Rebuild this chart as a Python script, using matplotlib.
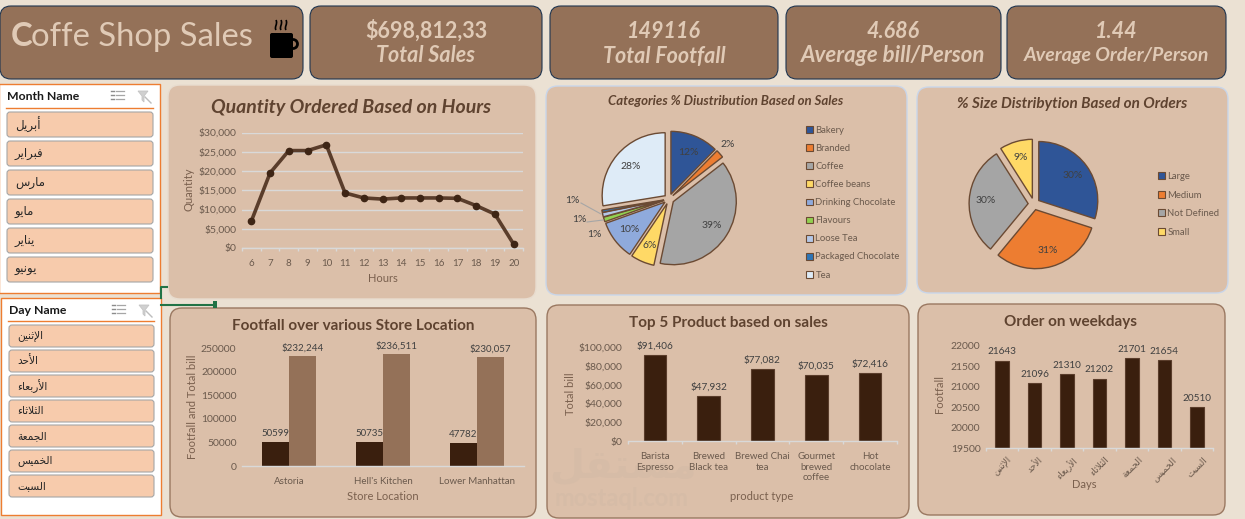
import matplotlib
matplotlib.use('Agg')
import matplotlib.pyplot as plt
import matplotlib.patches as mpatches
from matplotlib.path import Path
from matplotlib.ticker import FuncFormatter, MultipleLocator
import numpy as np

W, H = 1245, 519
plt.rcParams['font.family'] = ['Lato', 'DejaVu Sans']

hours = [6, 7, 8, 9, 10, 11, 12, 13, 14, 15, 16, 17, 18, 19, 20]
hour_sales = [7000, 19500, 25300, 25300, 26800, 14300, 13000, 12700, 13000, 13000, 13000, 12900, 11000, 8800, 1000]

categories = ['Bakery', 'Branded', 'Coffee', 'Coffee beans', 'Drinking Chocolate', 'Flavours', 'Loose Tea',
              'Packaged Chocolate', 'Tea']
category_share = [12.4, 2.1, 38.9, 6.1, 10.1, 1.2, 1.1, 0.6, 27.6]
category_colors = ['#2F5597', '#ED7D31', '#A5A5A5', '#FFD966', '#8FAADC', '#92D050', '#B4C7E7', '#2E75B6', '#DEEBF7']

sizes = ['Large', 'Medium', 'Not Defined', 'Small']
size_share = [30, 31, 30, 9]
size_colors = ['#2F5597', '#ED7D31', '#A5A5A5', '#FFD966']

stores = ['Astoria', "Hell's Kitchen", 'Lower Manhattan']
store_footfall = [50599, 50735, 47782]
store_bill = [232244, 236511, 230057]

products = ['Barista\nEspresso', 'Brewed\nBlack tea', 'Brewed Chai\ntea', 'Gourmet\nbrewed\ncoffee', 'Hot\nchocolate']
product_sales = [91406, 47932, 77082, 70035, 72416]

months = ['أبريل', 'فبراير', 'مارس', 'مايو', 'يناير', 'يونيو']
days = ['الإثنين', 'الأحد', 'الأربعاء', 'الثلاثاء', 'الجمعة', 'الخميس', 'السبت']
day_orders = [21643, 21096, 21310, 21202, 21701, 21654, 20510]

kpi_values = ['$698,812,33', '149116', '4.686', '1.44']
kpi_names = ['Total Sales', 'Total Footfall', 'Average bill/Person', 'Average Order/Person']

BG = '#EBE1D3'
TILE = '#947158'
PANEL = '#DBBFA9'
CREAM = '#E0CAB6'
DARK = '#3A1F0E'
TITLE = '#5F4330'
TICK = '#6B5A4D'
AXT = '#7A604E'
ORANGE = '#ED7D31'

# matplotlib does no arabic shaping, so go to presentation forms in visual order
FORMS = {'ا': (0xFE8D, 0xFE8E), 'أ': (0xFE83, 0xFE84), 'إ': (0xFE87, 0xFE88), 'د': (0xFEA9, 0xFEAA),
         'ر': (0xFEAD, 0xFEAE), 'و': (0xFEED, 0xFEEE), 'ة': (0xFE93, 0xFE94), 'ء': (0xFE80, 0xFE80),
         'ب': (0xFE8F, 0xFE90, 0xFE91, 0xFE92), 'ت': (0xFE95, 0xFE96, 0xFE97, 0xFE98),
         'ث': (0xFE99, 0xFE9A, 0xFE9B, 0xFE9C), 'ج': (0xFE9D, 0xFE9E, 0xFE9F, 0xFEA0),
         'ح': (0xFEA1, 0xFEA2, 0xFEA3, 0xFEA4), 'خ': (0xFEA5, 0xFEA6, 0xFEA7, 0xFEA8),
         'س': (0xFEB1, 0xFEB2, 0xFEB3, 0xFEB4), 'ع': (0xFEC9, 0xFECA, 0xFECB, 0xFECC),
         'ف': (0xFED1, 0xFED2, 0xFED3, 0xFED4), 'ق': (0xFED5, 0xFED6, 0xFED7, 0xFED8),
         'ل': (0xFEDD, 0xFEDE, 0xFEDF, 0xFEE0), 'م': (0xFEE1, 0xFEE2, 0xFEE3, 0xFEE4),
         'ن': (0xFEE5, 0xFEE6, 0xFEE7, 0xFEE8), 'ي': (0xFEF1, 0xFEF2, 0xFEF3, 0xFEF4)}
LAM_ALEF = {'ا': (0xFEFB, 0xFEFC), 'أ': (0xFEF7, 0xFEF8), 'إ': (0xFEF9, 0xFEFA)}


def shape(word):
    out = []
    prev_joins = False
    i = 0
    while i < len(word):
        c = word[i]
        if c == 'ل' and i + 1 < len(word) and word[i + 1] in LAM_ALEF:
            out.append(chr(LAM_ALEF[word[i + 1]][1 if prev_joins else 0]))
            prev_joins = False
            i += 2
            continue
        f = FORMS[c]
        next_ok = i + 1 < len(word) and word[i + 1] != 'ء'
        if len(f) == 4 and next_ok:
            out.append(chr(f[3] if prev_joins else f[2]))
            prev_joins = True
        else:
            out.append(chr(f[1] if prev_joins else f[0]))
            prev_joins = False
        i += 1
    return ''.join(reversed(out))


fig = plt.figure(figsize=(W / 100, H / 100), dpi=100, facecolor=BG)
bg = fig.add_axes([0, 0, 1, 1], zorder=0)
bg.set_xlim(0, W)
bg.set_ylim(H, 0)
bg.axis('off')


def box(x0, y0, x1, y1, r, fc, ec='none', lw=1.0, z=1):
    p = mpatches.FancyBboxPatch((x0 + r, y0 + r), x1 - x0 - 2 * r, y1 - y0 - 2 * r,
                                boxstyle='round,pad=%f,rounding_size=%f' % (r, r),
                                fc=fc, ec=ec, lw=lw, zorder=z)
    bg.add_patch(p)


def px_axes(x0, y0, x1, y1):
    ax = fig.add_axes([x0 / W, 1 - y1 / H, (x1 - x0) / W, (y1 - y0) / H], zorder=2)
    ax.patch.set_alpha(0)
    return ax


def txt(x, y, s, size, color, weight='normal', style='normal', ha='center', rot=0, family=None, z=5):
    kw = {'family': family} if family else {}
    return bg.text(x, y, s, fontsize=size, color=color, fontweight=weight, fontstyle=style, ha=ha, va='center',
                   rotation=rot, zorder=z, **kw)


def cat_axis(ax, n):
    # excel style: ticks between categories, labels in the middle
    ax.set_xlim(-0.5, n - 0.5)
    ax.set_xticks(np.arange(n + 1) - 0.5)
    ax.set_xticklabels([])
    ax.tick_params(axis='x', which='major', length=2.5, color='#D9D9D9', width=1)
    ax.tick_params(axis='x', which='minor', length=0, pad=8, labelsize=7, labelcolor=TICK)
    ax.tick_params(axis='y', length=0, labelsize=7.5, labelcolor=TICK, pad=4)
    for s in ['top', 'left', 'right']:
        ax.spines[s].set_visible(False)
    ax.spines['bottom'].set_color('#D9D9D9')
    ax.spines['bottom'].set_linewidth(1)


money = FuncFormatter(lambda v, p: '${:,.0f}'.format(v))

# header tiles
tiles = [(310, 6, 542, 79), (550, 6, 778, 79), (786, 6, 1001, 79), (1007, 6, 1226, 79)]
name_sizes = [15.5, 15.5, 16, 14]
box(0, 6, 303, 79, 11, TILE, '#1F3550', 0.8)
txt(11, 37, 'C', 23.6, CREAM, weight='bold', ha='left')
txt(31, 37, 'offe Shop Sales', 23.6, CREAM, ha='left')
for t, v, n, ns in zip(tiles, kpi_values, kpi_names, name_sizes):
    box(*t, 11, TILE, '#1F3550', 0.8)
    cx = (t[0] + t[2]) / 2
    txt(cx, 31, v, 15.5, CREAM, weight='bold', style='italic' if v != kpi_values[0] else 'normal')
    txt(cx, 56, n, ns, CREAM, weight='bold', style='italic')

# mug
box(270, 33, 293, 58, 2, 'black', z=3)
bg.add_patch(mpatches.Circle((293, 44), 4.5, fc='none', ec='black', lw=2, zorder=2))
for sx in [276, 281, 286]:
    v = [(sx, 30), (sx - 2, 27), (sx + 2, 24), (sx, 20)]
    bg.add_patch(mpatches.PathPatch(Path(v, [Path.MOVETO, Path.CURVE4, Path.CURVE4, Path.CURVE4]),
                                    fc='none', ec='black', lw=1.2, zorder=3))


def slicer(x0, y0, x1, y1, title, line_y, bx0, bx1, tops, bh, words, fsize):
    bg.add_patch(mpatches.Rectangle((x0, y0), x1 - x0, y1 - y0, fc='white', ec=ORANGE, lw=1, zorder=1))
    txt(bx0, y0 + 13, title, 8.8, '#1A1A1A', weight='bold', ha='left')
    bg.plot([bx0 - 1, bx1], [line_y, line_y], color=ORANGE, lw=1, zorder=3)
    # select and clear icons
    ix = x1 - 49
    for k in range(3):
        yy = y0 + 7 + k * 4
        bg.plot([ix + 5, ix + 13], [yy, yy], color='#A6A6A6', lw=0.9, zorder=3)
        bg.plot([ix, ix + 3], [yy, yy], color='#8C8C8C', lw=1, zorder=3)
    fx = x1 - 22
    bg.add_patch(mpatches.Polygon([(fx, y0 + 7), (fx + 10, y0 + 7), (fx + 6, y0 + 12), (fx + 6, y0 + 18),
                                   (fx + 4, y0 + 16), (fx + 4, y0 + 12)], fc='#D0D0D0', ec='#C4C4C4', lw=0.6, zorder=3))
    bg.plot([fx + 7, fx + 13], [y0 + 13, y0 + 19], color='#BDBDBD', lw=1, zorder=3)
    for top, w in zip(tops, words):
        box(bx0, top, bx1, top + bh, 3, '#F7CBAC', '#A6A6A6', 0.8, z=2)
        txt(bx0 + 8, top + bh / 2, shape(w), fsize, '#262626', ha='left', family='DejaVu Sans')


slicer(-1, 84, 160, 293, 'Month Name', 108, 7, 153, [112, 141, 170, 199, 228, 257], 25, months, 8.5)
slicer(1, 298, 161, 515, 'Day Name', 321, 9, 154, [325, 350, 375, 400, 425, 450, 475], 22, days, 7.6)

# stray green selection handle
bg.plot([161, 161, 167], [298, 287, 287], color='#217346', lw=1.5, zorder=4)
bg.plot([161, 213], [305, 305], color='#217346', lw=1.5, zorder=4)
bg.add_patch(mpatches.Rectangle((213, 301), 4, 7, fc='#217346', ec='none', zorder=4))

# panels
box(168, 85, 536, 299, 12, PANEL, '#E8DCCF', 1)
box(546, 86, 907, 295, 12, PANEL, '#C9D6EA', 1)
box(917, 87, 1228, 293, 12, PANEL, '#C9D6EA', 1)
box(170, 308, 536, 517, 12, PANEL, '#9A7861', 1)
box(547, 305, 909, 518, 12, PANEL, '#9A7861', 1)
box(918, 304, 1225, 515, 12, PANEL, '#9A7861', 1)

# watermark in the product panel
txt(623, 467, shape('مستقل'), 29, '#D6BCA7', weight='bold', family='DejaVu Sans', z=1.5)
txt(622, 498, 'mostaql.com', 17, '#D6BCA7', weight='bold', z=1.5)

# line chart
ax = px_axes(242, 132.5, 523, 248)
x = np.arange(len(hours))
ax.plot(x, hour_sales, color='#5A3D2B', lw=2.6, marker='o', ms=4.5, mfc='#3E2515', mec='#3E2515', zorder=3)
cat_axis(ax, len(hours))
ax.set_xticks(x, minor=True)
ax.set_xticklabels([str(h) for h in hours], minor=True)
ax.set_ylim(0, 30000)
ax.yaxis.set_major_locator(MultipleLocator(5000))
ax.yaxis.set_major_formatter(money)
ax.grid(axis='y', color='#D9D9D9', lw=1)
ax.set_axisbelow(True)
txt(351, 107, 'Quantity Ordered Based on Hours', 14, TITLE, weight='bold', style='italic')
txt(189, 189, 'Quantity', 8, AXT, rot=90)
txt(383, 278, 'Hours', 8, AXT)


def draw_pie(cx, cy, r, values, colors, explode, pct):
    s = 3.0
    a = px_axes(cx - s * r / 2, cy - s * r / 2, cx + s * r / 2, cy + s * r / 2)
    wedges, _, autos = a.pie(values, colors=colors, startangle=90, counterclock=False, explode=explode,
                             autopct='%.0f%%', pctdistance=pct,
                             wedgeprops=dict(edgecolor='#6B4A33', linewidth=1),
                             textprops=dict(fontsize=7.5, color='#404040'))
    a.set_xlim(-s / 2, s / 2)
    a.set_ylim(-s / 2, s / 2)
    return a, wedges, autos


def pie_legend(a, wedges, labels, px_x, px_y, spacing):
    leg = a.legend(wedges, labels, loc='upper left', bbox_to_anchor=(px_x / W, 1 - px_y / H),
                   bbox_transform=fig.transFigure, frameon=False, fontsize=6.8, labelcolor=TICK,
                   handlelength=0.75, handleheight=0.75, handletextpad=0.25, borderpad=0, borderaxespad=0,
                   labelspacing=spacing)
    for h in leg.legend_handles:
        h.set_edgecolor('#6B4A33')
        h.set_linewidth(0.8)


# categories pie
cx, cy, r = 669, 199, 63
a, wedges, autos = draw_pie(cx, cy, r, category_share, category_colors, [0.08] * len(category_share), 0.72)
label_px = {1: (728, 144), 5: (594, 234), 6: (579, 219), 7: (572, 200)}
for i, (lx, ly) in label_px.items():
    autos[i].set_position(((lx - cx) / r, -(ly - cy) / r))
for (lx, ly), (ex, ey) in [((581, 203), (601, 214)), ((587, 222), (603, 220))]:
    a.plot([(lx - cx) / r, (ex - cx) / r], [-(ly - cy) / r, -(ey - cy) / r], color='#A6A6A6', lw=0.8, clip_on=False)
pie_legend(a, wedges, categories, 806, 126, 0.96)
txt(726, 101, 'Categories % Diustribution Based on Sales', 9.5, TITLE, weight='bold', style='italic')

# sizes pie
cx, cy, r = 1034, 204, 59
a, wedges, autos = draw_pie(cx, cy, r, size_share, size_colors, [0.1] * len(size_share), 0.72)
pie_legend(a, wedges, sizes, 1158, 172, 1.01)
txt(1072, 104, '% Size Distribytion Based on Orders', 11, TITLE, weight='bold', style='italic')

# store bars
ax = px_axes(242, 348, 524, 466)
x = np.arange(len(stores))
bw = 0.29
b1 = ax.bar(x - bw / 2, store_footfall, bw, color=DARK)
b2 = ax.bar(x + bw / 2, store_bill, bw, color=TILE)
cat_axis(ax, len(stores))
ax.set_xticks(x, minor=True)
ax.set_xticklabels(stores, minor=True)
ax.tick_params(axis='x', which='major', length=0)
ax.set_ylim(0, 250000)
ax.yaxis.set_major_locator(MultipleLocator(50000))
ax.bar_label(b1, fmt='%d', padding=3, fontsize=7, color='#404040')
ax.bar_label(b2, labels=['${:,}'.format(v) for v in store_bill], padding=3, fontsize=7, color='#404040')
txt(353, 326, 'Footfall over various Store Location', 11, TITLE, weight='bold')
txt(192, 407, 'Footfall and Total bill', 8, AXT, rot=90)
txt(383, 496, 'Store Location', 8, AXT)

# product bars
ax = px_axes(628, 347, 897, 441)
x = np.arange(len(products))
b = ax.bar(x, product_sales, 0.42, color=DARK, edgecolor='#5A3D2B', lw=0.8)
cat_axis(ax, len(products))
ax.set_xticks(x, minor=True)
ax.set_xticklabels(products, minor=True)
ax.set_ylim(0, 100000)
ax.yaxis.set_major_locator(MultipleLocator(20000))
ax.yaxis.set_major_formatter(money)
ax.bar_label(b, labels=['${:,}'.format(v) for v in product_sales], padding=3, fontsize=7.2, color='#404040')
txt(728, 323, 'Top 5 Product based on sales', 11, TITLE, weight='bold')
txt(570, 394, 'Total bill', 8, AXT, rot=90)
txt(762, 496, 'product type', 8, AXT)

# weekday bars
ax = px_axes(986, 346, 1213, 448)
x = np.arange(len(days))
b = ax.bar(x, day_orders, 0.42, color=DARK, edgecolor='#5A3D2B', lw=0.8)
cat_axis(ax, len(days))
ax.set_xticks(x, minor=True)
ax.set_xticklabels([shape(d) for d in days], minor=True, rotation=45, ha='center', family='DejaVu Sans', fontsize=6.5)
ax.tick_params(axis='x', which='minor', pad=5)
ax.set_ylim(19500, 22000)
ax.yaxis.set_major_locator(MultipleLocator(500))
ax.bar_label(b, fmt='%d', padding=3, fontsize=7.2, color='#404040')
txt(1071, 322, 'Order on weekdays', 11, TITLE, weight='bold')
txt(940, 394, 'Footfall', 8, AXT, rot=90)
txt(1084, 485, 'Days', 8, AXT)

fig.savefig('out.png', dpi=100, facecolor=BG)
